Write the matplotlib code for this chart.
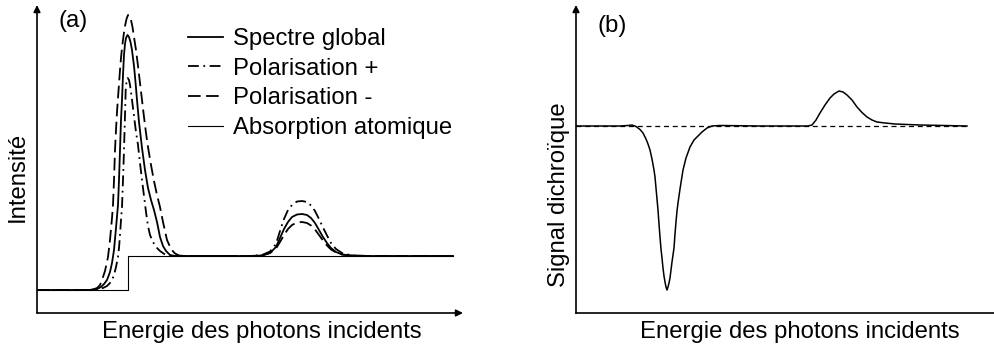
import matplotlib
matplotlib.use("Agg")
import matplotlib.pyplot as plt

plt.rcParams['font.family'] = ['Liberation Sans', 'DejaVu Sans']

# ---- (a) spectres : energie (u.a.) / intensite (u.a.) ----
e_global = [37, 70, 90, 97, 101, 104, 107, 110, 112, 114, 116, 118, 119, 120, 121, 122, 123, 124, 125, 126,
            127.5, 129, 130.5, 132, 134, 135.5, 137, 139, 142, 145, 148, 151, 154, 157, 160, 163, 166, 170,
            175, 200, 250, 262, 270, 276, 280, 284, 288, 292, 297, 302, 307, 311, 315, 319, 323, 327, 331,
            336, 342, 350, 370, 453]
i_global = [23, 23, 23, 24, 26, 29, 33, 41, 50, 63, 85, 108, 133, 163, 193, 213, 238, 258, 269, 275,
            278, 276, 271, 263, 247, 231, 213, 191, 165, 143, 125, 113, 103, 91, 76, 67, 62, 58,
            57, 57, 57, 57.5, 60, 66, 75, 84, 91, 96, 98.5, 99, 98, 95, 90, 83, 76, 70, 65,
            61, 58.5, 57.5, 57, 57]

e_moins = [37, 85, 93, 97, 100, 102, 105, 108, 110, 112, 113, 114, 115, 116, 117, 118, 119, 120, 121, 122,
           123.5, 125, 126.5, 128, 129.5, 131, 132.5, 134, 136, 138, 140, 142, 144, 146, 148, 151, 154,
           157, 160, 163, 167, 171, 175, 179, 185, 250, 262, 270, 276, 280, 284, 288, 292, 297, 302,
           307, 311, 315, 319, 323, 327, 331, 336, 342, 350, 370, 453]
i_moins = [23, 23, 23.5, 25, 28, 33, 42, 56, 73, 95, 108, 133, 163, 183, 201, 215, 229, 243, 255, 265,
           277, 287, 294, 298, 297, 293, 286, 276, 263, 247, 230, 213, 196, 180, 166, 148, 132,
           118, 106, 91, 73, 64, 59.5, 57.5, 57, 57, 57.5, 60, 64.5, 71, 78, 84, 88, 90.5, 91,
           90, 87.5, 83.5, 78, 72.5, 67.5, 63.5, 60.5, 58.5, 57.5, 57, 57]

e_plus = [37, 90, 98, 103, 107, 110, 112, 114, 116, 118, 119, 120, 121, 122, 123, 124, 125, 125.7, 126.5,
          127.7, 129, 130, 131, 132, 133, 134.5, 136, 138, 140, 142, 144, 146, 148, 150, 153, 156, 160,
          165, 170, 185, 250, 262, 270, 276, 280, 284, 288, 292, 297, 302, 307, 311, 315, 319, 323, 327,
          331, 336, 342, 350, 360, 453]
i_plus = [23, 23, 23.5, 25, 27, 30, 33, 38, 46, 56, 65, 78, 93, 106, 133, 163, 198, 223, 231,
          235, 233, 228, 221, 213, 205, 193, 181, 168, 150, 133, 117, 101, 87, 78, 71, 66, 62,
          58.5, 57, 57, 57, 58, 61.5, 69, 82, 94, 103, 108, 111.5, 112, 111, 107.5, 102, 94, 85.5, 77.5,
          70, 64, 60, 58, 57, 57]

e_atom = [37, 128, 128, 453]
i_atom = [23, 23, 57, 57]

# ---- (b) signal dichroique ----
e_dich = [576, 600, 620, 628, 632, 636, 640, 643, 646, 648, 650, 652, 654, 655, 656, 657, 658, 659, 660,
          661, 662, 663, 664, 665, 666, 667, 668, 669, 670, 671, 672, 673, 674, 675, 676, 677, 678, 680,
          683, 686, 690, 694, 698, 702, 707, 712, 720, 760, 800, 808, 812, 816, 820, 825, 830, 834, 839,
          843, 847, 852, 857, 862, 867, 872, 877, 885, 895, 920, 967]
s_dich = [0, 0, 0, 0.5, 1, -0.5, -3.5, -7, -13, -18, -24, -33, -44, -51, -62, -73, -84, -98, -111,
          -123, -132, -142, -150, -156, -161, -164, -161, -157, -152, -144, -136, -129, -122, -108, -96, -85, -77, -63,
          -44, -32, -21, -14, -10, -6, -2, 0, 0.5, 0, 0, 0, 1, 6, 13, 21, 28, 32, 35,
          34, 31, 26, 19, 13.5, 9, 6, 4, 3, 2, 1, 0]
e_zero = [576, 967]
s_zero = [0, 0]

fig = plt.figure(figsize=(9.94, 3.47), dpi=100)
W, H = 994, 347

def ax_px(x0, x1, ytop, ybot):
    return fig.add_axes([x0 / W, 1 - ybot / H, (x1 - x0) / W, (ybot - ytop) / H])

fs = 17.2

ax1 = ax_px(37, 463, 5, 313)
ax1.set_xlim(37, 463)
ax1.set_ylim(0, 308)
ax1.plot(e_global, i_global, color='k', lw=1.3, label='Spectre global')
ax1.plot(e_plus, i_plus, color='k', lw=1.3, dashes=(6, 2.5, 1, 2.5), label='Polarisation +')
ax1.plot(e_moins, i_moins, color='k', lw=1.3, dashes=(7, 3), label='Polarisation -')
ax1.plot(e_atom, i_atom, color='k', lw=0.8, label='Absorption atomique')
ax1.text(58, 286, '(a)', fontsize=fs, va='baseline')
ax1.legend(loc='upper left', bbox_to_anchor=(188 / W, 1 - 28 / H), bbox_transform=fig.transFigure,
           frameon=False, fontsize=fs, handlelength=1.45, handletextpad=0.45,
           borderpad=0, borderaxespad=0, labelspacing=0.32)

ax2 = ax_px(576, 994, 5, 313)
ax2.set_xlim(576, 994)
ax2.set_ylim(-187, 121)
ax2.plot(e_zero, s_zero, color='k', lw=0.9, dashes=(4, 3))
ax2.plot(e_dich, s_dich, color='k', lw=1.1)
ax2.text(597, 94, '(b)', fontsize=fs, va='baseline')

for ax in (ax1, ax2):
    for s in ax.spines.values():
        s.set_visible(False)
    ax.set_xticks([])
    ax.set_yticks([])
    ax.patch.set_alpha(0)
    ax.annotate('', xy=(0, 1), xytext=(0, 0), xycoords='axes fraction',
                arrowprops=dict(arrowstyle='-|>', lw=1.2, color='k', shrinkA=0, shrinkB=0,
                                mutation_scale=10))
ax1.annotate('', xy=(1, 0), xytext=(0, 0), xycoords='axes fraction',
             arrowprops=dict(arrowstyle='-|>', lw=1.2, color='k', shrinkA=0, shrinkB=0,
                             mutation_scale=10))
ax2.plot([0, 1], [0, 0], transform=ax2.transAxes, color='k', lw=1.2, clip_on=False)

fig.text(261.5 / W, 1 - 338 / H, 'Energie des photons incidents', fontsize=fs, ha='center', va='baseline')
fig.text(800 / W, 1 - 338 / H, 'Energie des photons incidents', fontsize=fs, ha='center', va='baseline')
fig.text(18 / W, 1 - 177 / H, 'Intensité', fontsize=fs, rotation=90, ha='center', va='center')
fig.text(559 / W, 1 - 195 / H, 'Signal dichroïque', fontsize=fs, rotation=90, ha='center', va='center')

fig.savefig('out.png', dpi=100)
